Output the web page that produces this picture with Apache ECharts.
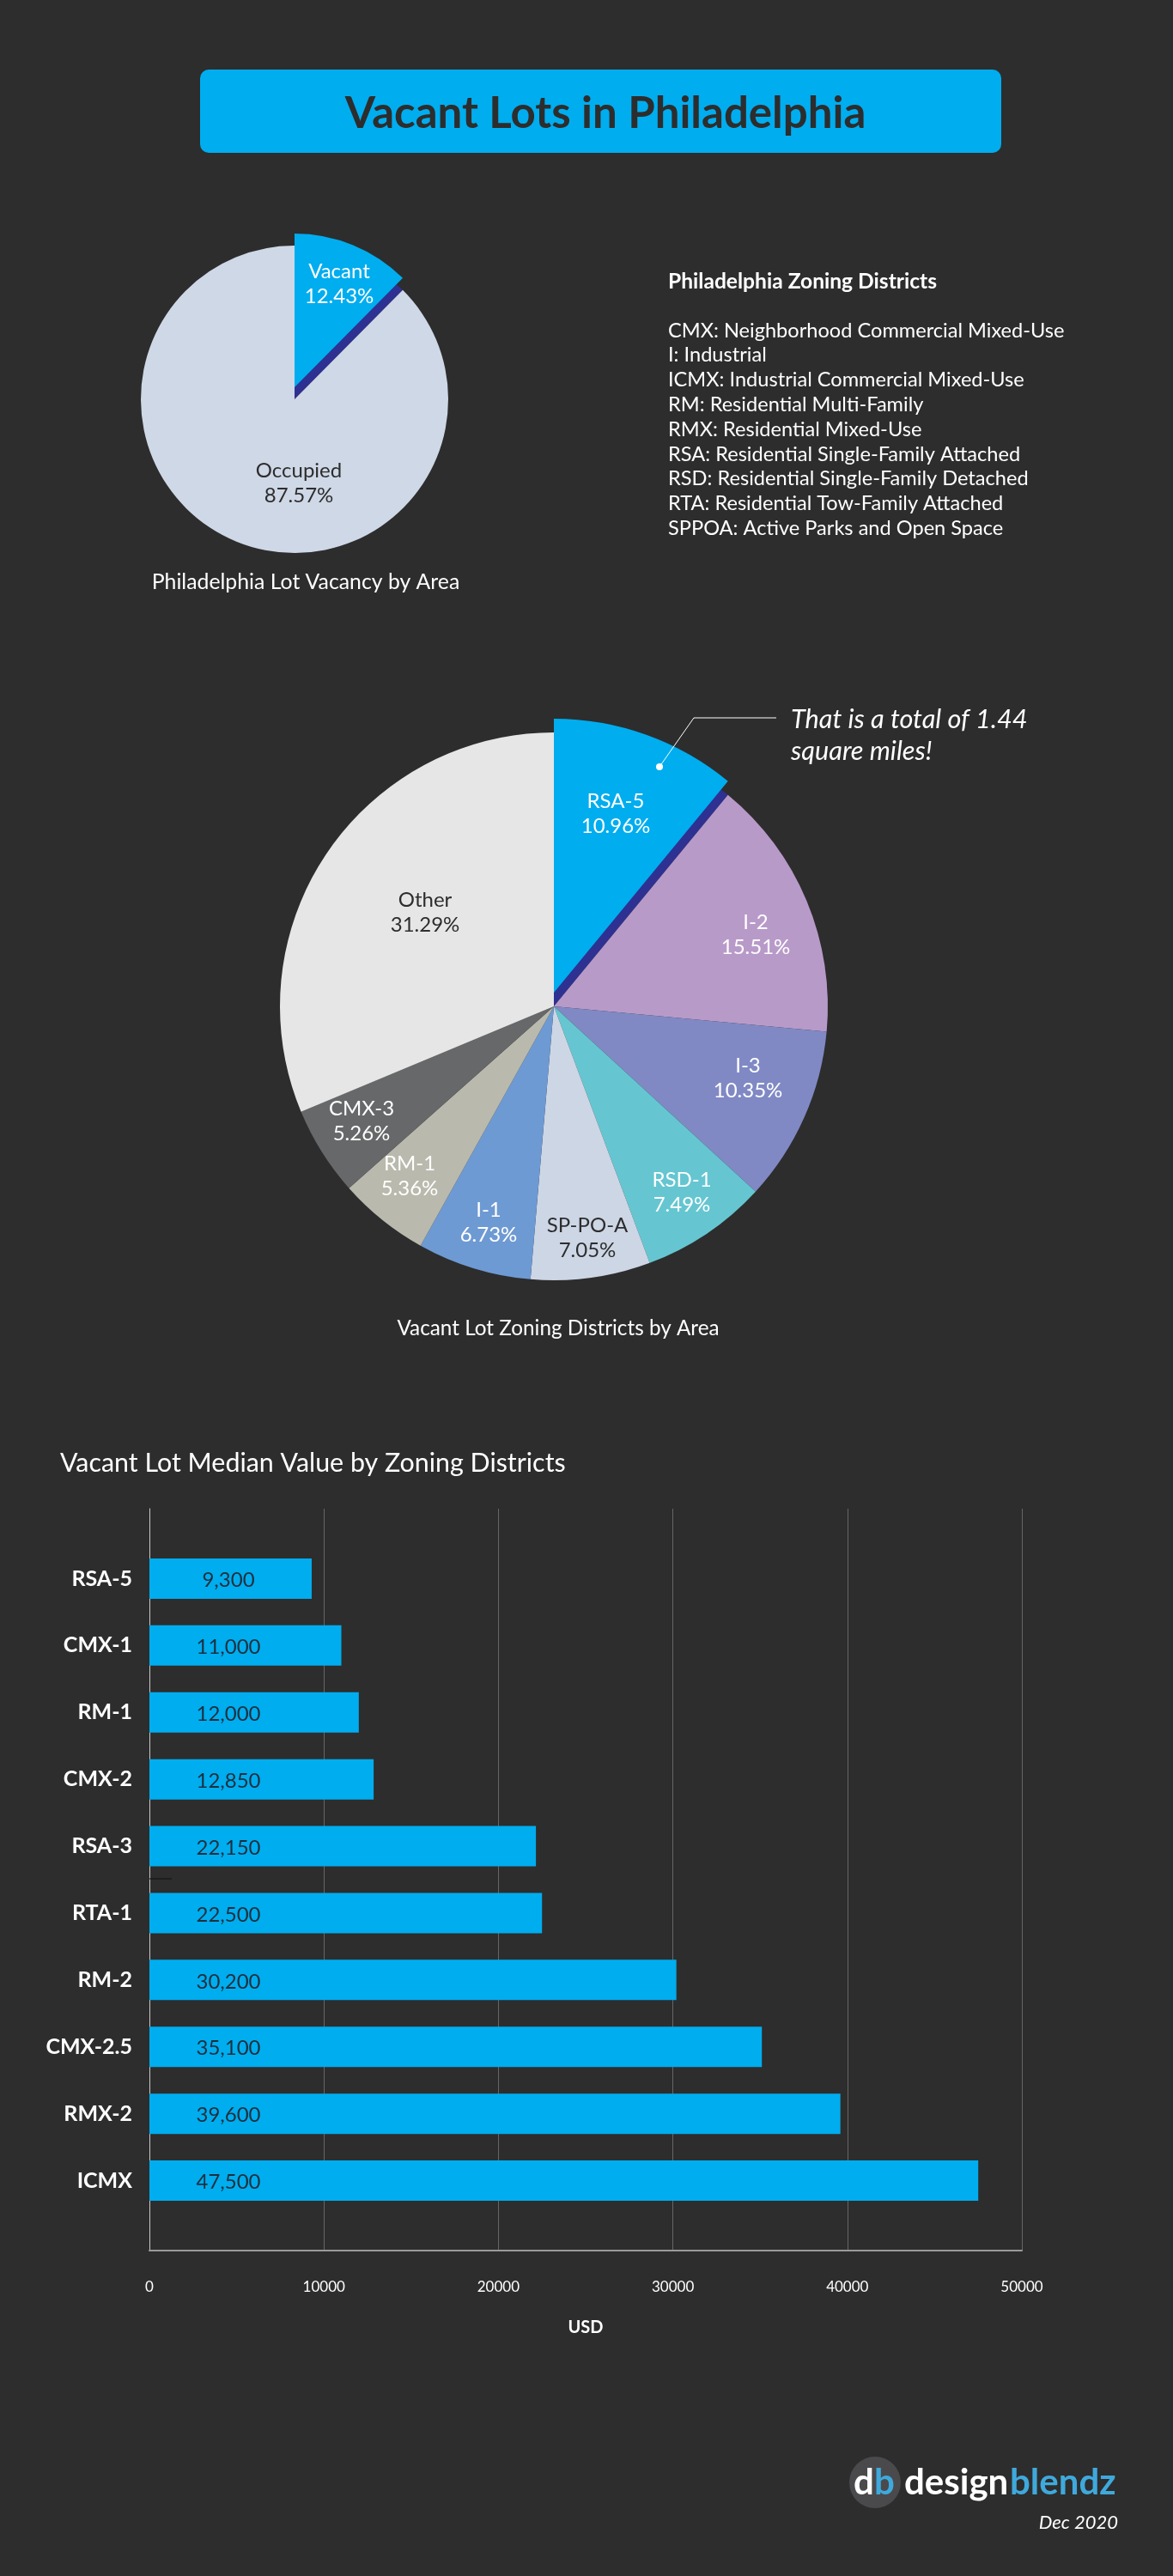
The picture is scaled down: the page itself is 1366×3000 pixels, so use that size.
<!DOCTYPE html>
<html lang="en">
<head>
    <meta charset="UTF-8">
    <title>Vacant Lots in Philadelphia</title>
    <style>
        html, body { margin: 0; background: #2d2d2d; }
        #container { width: 1366px; height: 3000px; }
    </style>
</head>
<body>
    <div id="container"></div>
    <script src="https://cdn.jsdelivr.net/npm/echarts@6/dist/echarts.min.js"></script>
    <script>
        // data
        const vacancyNames = ['Vacant', 'Occupied'];
        const vacancyValues = [12.43, 87.57];
        const vacancyColors = ['#2e3192', '#cfd8e6'];

        const zoningNames = ['RSA-5', 'I-2', 'I-3', 'RSD-1', 'SP-PO-A', 'I-1', 'RM-1', 'CMX-3', 'Other'];
        const zoningValues = [10.96, 15.51, 10.35, 7.49, 7.05, 6.73, 5.36, 5.26, 31.29];
        const zoningColors = ['#2e3192', '#b89ac9', '#8089c4', '#65c6d1', '#cdd6e5', '#6e9ad3', '#b9b9ad', '#676869', '#e6e6e6'];
        const zoningDarkText = ['SP-PO-A', 'Other'];

        const medianDistricts = ['RSA-5', 'CMX-1', 'RM-1', 'CMX-2', 'RSA-3', 'RTA-1', 'RM-2', 'CMX-2.5', 'RMX-2', 'ICMX'];
        const medianValues = [9300, 11000, 12000, 12850, 22150, 22500, 30200, 35100, 39600, 47500];

        const zoningLegend = [
            'CMX: Neighborhood Commercial Mixed-Use',
            'I: Industrial',
            'ICMX: Industrial Commercial Mixed-Use',
            'RM: Residential Multi-Family',
            'RMX: Residential Mixed-Use',
            'RSA: Residential Single-Family Attached',
            'RSD: Residential Single-Family Detached',
            'RTA: Residential Tow-Family Attached',
            'SPPOA: Active Parks and Open Space'
        ];

        // where the slice labels sit on the page
        const vacancySpots = { Vacant: [395, 331], Occupied: [348, 563] };
        const zoningSpots = {
            'RSA-5': [717, 948], 'I-2': [880, 1089], 'I-3': [871, 1256], 'RSD-1': [794, 1389],
            'SP-PO-A': [684, 1442], 'I-1': [569, 1424], 'RM-1': [477, 1370], 'CMX-3': [421, 1306], 'Other': [495, 1063]
        };

        const FONT = 'Lato';
        const WHITE = '#ffffff';
        const DARK = '#2d2d2d';
        const BLUE = '#00adef';

        function spotLayout(names, spots) {
            return function (params) {
                const spot = spots[names[params.dataIndex]];
                return { x: spot[0], y: spot[1], align: 'center', verticalAlign: 'middle' };
            };
        }

        function sliceLabel(name, value, color) {
            return {
                show: true,
                position: 'inside',
                formatter: name + '\n' + value.toFixed(2) + '%',
                color: color,
                fontFamily: FONT,
                fontSize: 24,
                lineHeight: 29
            };
        }

        // base pie plus a second one holding only the lifted blue slice
        function basePie(names, values, colors, center, radius, labelOf, spots) {
            return {
                type: 'pie',
                center: center,
                radius: radius,
                startAngle: 90,
                silent: true,
                avoidLabelOverlap: false,
                labelLine: { show: false },
                labelLayout: spotLayout(names, spots),
                data: names.map((n, i) => ({
                    name: n,
                    value: values[i],
                    itemStyle: { color: colors[i] },
                    label: i === 0 ? { show: false } : sliceLabel(n, values[i], labelOf(n))
                }))
            };
        }

        function liftedPie(names, values, center, radius, spots) {
            return {
                type: 'pie',
                center: center,
                radius: radius,
                startAngle: 90,
                silent: true,
                avoidLabelOverlap: false,
                labelLine: { show: false },
                labelLayout: spotLayout(names, spots),
                data: names.map((n, i) => ({
                    name: n,
                    value: values[i],
                    itemStyle: { color: i === 0 ? BLUE : 'transparent' },
                    label: i === 0 ? sliceLabel(n, values[i], WHITE) : { show: false }
                }))
            };
        }

        function pageText(text, x, y, fontSize, extra) {
            return {
                text: text,
                left: x,
                top: y,
                textAlign: (extra && extra.align) || 'left',
                textVerticalAlign: 'middle',
                textStyle: {
                    color: (extra && extra.color) || WHITE,
                    fontFamily: FONT,
                    fontSize: fontSize,
                    fontWeight: (extra && extra.weight) || 'normal',
                    fontStyle: (extra && extra.style) || 'normal'
                },
                padding: 0
            };
        }

        const titles = [
            pageText('Vacant Lots in Philadelphia', 705, 133, 51, { align: 'center', color: DARK, weight: 'bold' }),
            pageText('Philadelphia Lot Vacancy by Area', 356, 678, 24.8, { align: 'center' }),
            pageText('Philadelphia Zoning Districts', 778, 328, 24.6, { weight: 'bold' }),
            pageText('Vacant Lot Zoning Districts by Area', 650, 1547, 24.3, { align: 'center' }),
            pageText('Vacant Lot Median Value by Zoning Districts', 70, 1704, 30.4),
            pageText('That is a total of 1.44', 921, 838, 30.7, { style: 'italic' }),
            pageText('square miles!', 921, 875, 30.7, { style: 'italic' }),
            pageText('Dec 2020', 1302, 2938, 22, { align: 'right', style: 'italic' })
        ];
        zoningLegend.forEach((line, i) => {
            titles.push(pageText(line, 778, 385 + i * 28.8, 23.6));
        });

        const option = {
            animation: false,
            backgroundColor: DARK,
            title: titles,
            graphic: [
                { type: 'rect', z: -1, shape: { x: 233, y: 81, width: 933, height: 97, r: 10 }, style: { fill: BLUE } },
                // callout
                { type: 'polyline', z: 20, shape: { points: [[768, 893], [808, 836], [904, 836]] }, style: { stroke: WHITE, lineWidth: 1, fill: null } },
                { type: 'circle', z: 20, shape: { cx: 768, cy: 893, r: 4 }, style: { fill: WHITE } },
                // stray tick in the bar chart
                { type: 'line', z: 20, shape: { x1: 174, y1: 2188, x2: 200, y2: 2188 }, style: { stroke: '#111111', lineWidth: 1 } },
                // logo
                { type: 'circle', shape: { cx: 1019, cy: 2891, r: 30 }, style: { fill: '#4a4a4c' } },
                { type: 'text', x: 994, y: 2891, style: { text: 'd', fill: WHITE, font: 'bold 42px ' + FONT, textVerticalAlign: 'middle' } },
                { type: 'text', x: 1018, y: 2891, style: { text: 'b', fill: '#3fa9dc', font: 'bold 42px ' + FONT, textVerticalAlign: 'middle' } },
                { type: 'text', x: 1053, y: 2891, style: { text: 'design', fill: WHITE, font: 'bold 42px ' + FONT, textVerticalAlign: 'middle' } },
                { type: 'text', x: 1176, y: 2891, style: { text: 'blendz', fill: '#3fa9dc', font: 'bold 42px ' + FONT, textVerticalAlign: 'middle' } }
            ],
            grid: [
                { left: 174, top: 1757, width: 1016, height: 864 },
                { left: 174, top: 1799.5, width: 1016, height: 779 }
            ],
            xAxis: [
                {
                    gridIndex: 0,
                    type: 'value',
                    min: 0,
                    max: 50000,
                    interval: 10000,
                    name: 'USD',
                    nameLocation: 'middle',
                    nameGap: 80,
                    nameTextStyle: { color: WHITE, fontFamily: FONT, fontSize: 20, fontWeight: 'bold' },
                    axisLine: { show: true, lineStyle: { color: '#9a9a9a', width: 2 } },
                    axisTick: { show: false },
                    axisLabel: { color: WHITE, fontFamily: FONT, fontSize: 17, margin: 34, formatter: v => String(v) },
                    splitLine: { show: true, lineStyle: { color: '#666666', width: 1 } }
                },
                { gridIndex: 1, type: 'value', min: 0, max: 50000, show: false }
            ],
            yAxis: [
                {
                    gridIndex: 0,
                    type: 'category',
                    data: [''],
                    axisLine: { show: true, lineStyle: { color: '#c8c8c8', width: 1 } },
                    axisTick: { show: false },
                    axisLabel: { show: false }
                },
                {
                    gridIndex: 1,
                    type: 'category',
                    inverse: true,
                    data: medianDistricts,
                    axisLine: { show: false },
                    axisTick: { show: false },
                    axisLabel: { color: WHITE, fontFamily: FONT, fontSize: 25, fontWeight: 'bold', margin: 20, padding: [4, 0, 0, 0] }
                }
            ],
            series: [
                basePie(vacancyNames, vacancyValues, vacancyColors, [343, 465], 179, () => DARK, vacancySpots),
                liftedPie(vacancyNames, vacancyValues, [343, 451], 179, vacancySpots),
                basePie(zoningNames, zoningValues, zoningColors, [645, 1172], 319,
                    n => (zoningDarkText.indexOf(n) >= 0 ? DARK : WHITE), zoningSpots),
                liftedPie(zoningNames, zoningValues, [645, 1156], 319, zoningSpots),
                {
                    type: 'bar',
                    xAxisIndex: 1,
                    yAxisIndex: 1,
                    barWidth: 47,
                    silent: true,
                    z: 5,
                    data: medianValues,
                    itemStyle: { color: BLUE },
                    label: {
                        show: true,
                        position: [92, '50%'],
                        offset: [0, 2],
                        align: 'center',
                        verticalAlign: 'middle',
                        color: '#1c2f3d',
                        fontFamily: FONT,
                        fontSize: 24,
                        formatter: p => p.value.toLocaleString('en-US')
                    }
                }
            ]
        };

        const chart = echarts.init(document.getElementById('container'));
        chart.setOption(option);
    </script>
</body>
</html>
